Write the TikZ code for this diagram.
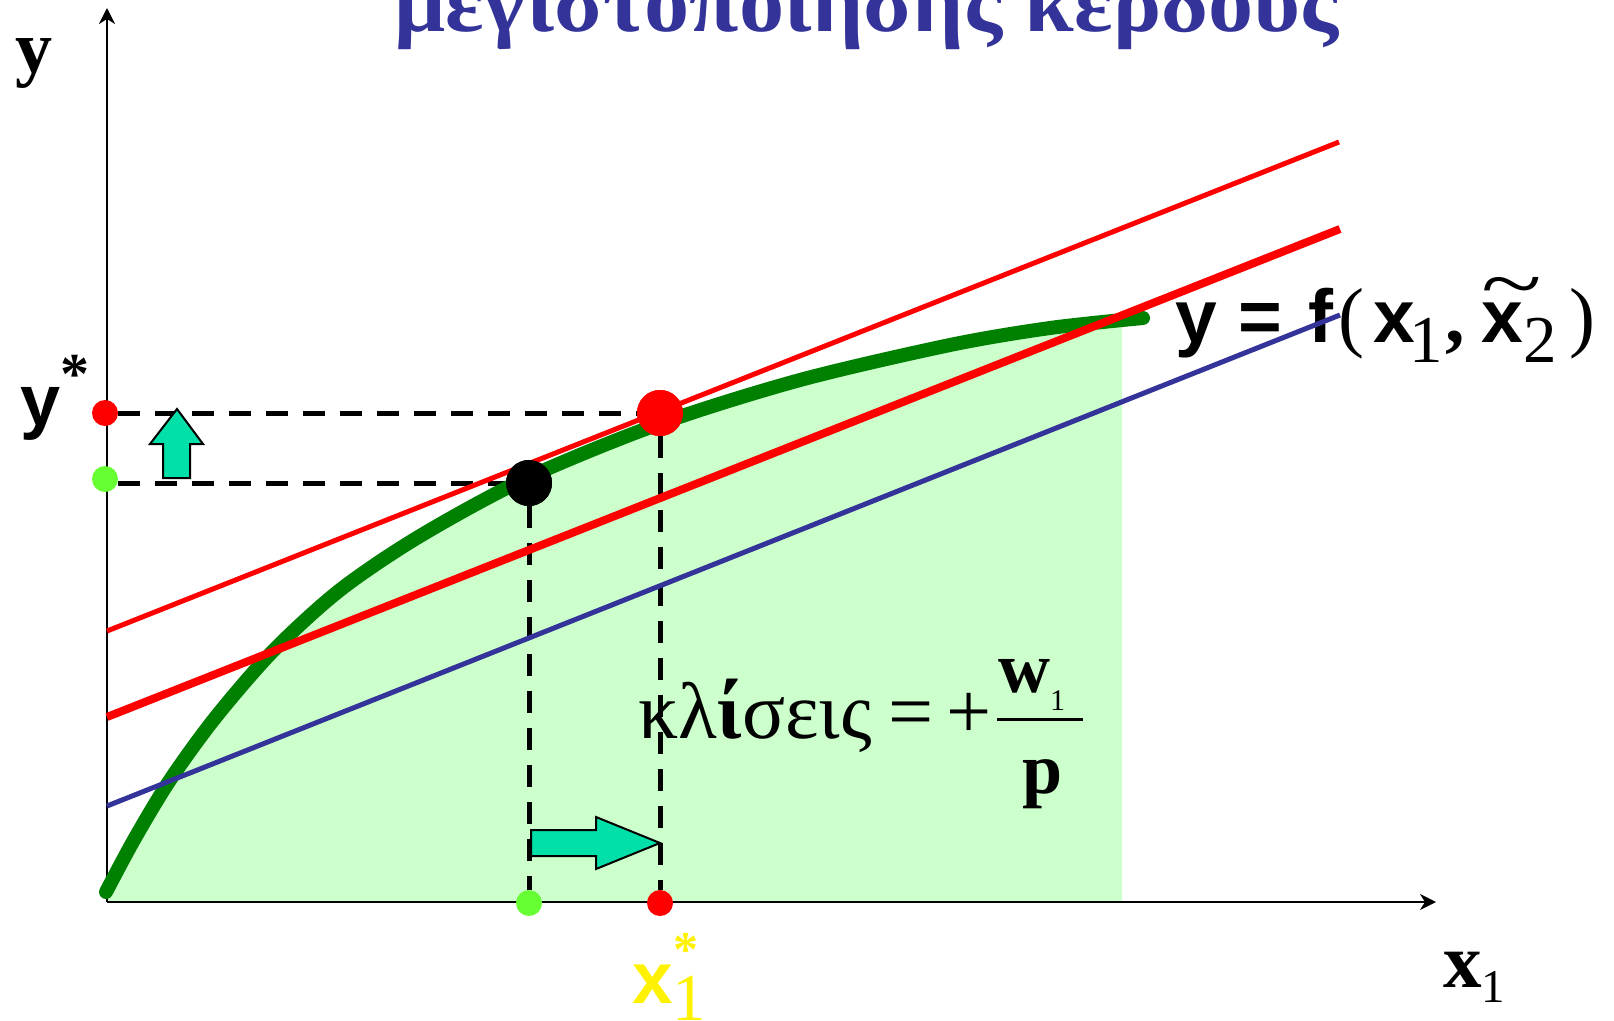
\documentclass[tikz,border=0pt]{standalone}
\usepackage{fontspec}
\usepackage{graphicx}
\setmainfont{Liberation Serif}
\setsansfont{Liberation Sans}
\usetikzlibrary{arrows.meta}

\definecolor{curvegreen}{RGB}{0,128,0}
\definecolor{areagreen}{RGB}{204,255,204}
\definecolor{linered}{RGB}{255,0,0}
\definecolor{lineblue}{RGB}{51,51,153}
\definecolor{dotgreen}{RGB}{102,255,51}
\definecolor{movecyan}{RGB}{0,224,168}
\definecolor{titleblue}{RGB}{51,51,153}

\newcommand{\fsz}[1]{\fontsize{#1}{#1}\selectfont}
\newcommand{\sfb}{\sffamily\bfseries}

\begin{document}
\begin{tikzpicture}[x=1pt,y=-1pt,
    axis/.style={line width=2pt,-{Stealth[length=16pt,width=16pt,inset=5pt]}},
    guide/.style={line width=5pt,dash pattern=on 22pt off 15pt},
    bigdot/.style={circle,inner sep=0pt,minimum size=46pt},
    smalldot/.style={circle,inner sep=0pt,minimum size=26pt},
    blockarrow/.style={fill=movecyan,draw=black,line width=2pt,line join=miter},
    lbl/.style={inner sep=0pt,anchor=base west}]
    \useasboundingbox (0,0) rectangle (1614,1020);

    % Title (cut by the top edge)
    \node[lbl,text=titleblue] (title) at (394,31) {\fsz{95}\bfseries\scalebox{0.95}[0.9]{μεγιστοποίησης κέρδους}};

    % Area under the production function
    \begin{scope}
        \clip (107,0) rectangle (1122,902);
        \fill[areagreen] plot[smooth] coordinates {(106,892) (135,838) (170,780) (215,718) (273,651) (340,590) (420,536) (527,478) (659,424) (800,380) (950,345) (1050,328) (1143,318)} -- (1143,902) -- (106,902) -- cycle;
    \end{scope}

    % Axes
    \coordinate (O) at (107,902);
    \coordinate (ytop) at (107,8);
    \coordinate (xend) at (1436,902);
    \draw[axis] (O) -- (ytop);
    \draw[axis] (O) -- (xend);

    % Points
    \node[bigdot,fill=black] (opt0) at (529,483) {};
    \node[bigdot,fill=linered] (opt1) at (660,413) {};
    \node[smalldot,fill=linered] (ystar) at (105,413) {};
    \node[smalldot,fill=dotgreen] (yzero) at (105,479) {};
    \node[smalldot,fill=dotgreen] (xzero) at (529,903) {};
    \node[smalldot,fill=linered] (xstar) at (660,903) {};

    % Dashed guides
    \draw[guide] (ystar) -- (opt1);
    \draw[guide] (yzero.east |- opt0) -- (opt0);
    \draw[guide] (opt0) -- (xzero);
    \draw[guide] (opt1) -- (xstar);

    % Production function
    \draw[curvegreen,line width=14pt,line cap=round] plot[smooth] coordinates {(106,892) (135,838) (170,780) (215,718) (273,651) (340,590) (420,536) (527,478) (659,424) (800,380) (950,345) (1050,328) (1143,318)};

    % Labels
    \node[lbl] (fname) at (1175,342) {{\sfb\fsz{75}y\hspace{22pt}=\hspace{26pt}f}\hspace{5pt}{\fsz{78}(}\hspace{9pt}{\sfb\fsz{75}x}\hspace{-6pt}\raisebox{-20pt}{\fsz{67}1}\hspace{3pt}{\fsz{78}\bfseries,}\hspace{16pt}{\sfb\fsz{75}\rlap{\raisebox{32pt}{\rmfamily\mdseries\fsz{80}\scalebox{1.4}[1]{\char"7E}}}x}\raisebox{-20pt}{\fsz{67}2}\hspace{13pt}{\fsz{78})}};
    \node[lbl] (slope) at (638,738) {\fsz{80}κλ\textbf{ί}σεις\hspace{17pt}=\hspace{12pt}+};
    \node[lbl] (wnum) at (998,692) {\fsz{72}\bfseries w\raisebox{-18pt}{\mdseries\fsz{30}1}};
    \node[lbl] (pden) at (1022,793) {\fsz{72}\bfseries p};
    \draw[line width=3pt] (997,719) -- (1083,719);
    \node[lbl] (ylabel) at (15,72) {\fsz{74}\bfseries y};
    \node[lbl] (ystarlabel) at (20,425) {{\sfb\fsz{72}y}\raisebox{32pt}{\fsz{58}\bfseries *}};
    \node[lbl,text=yellow] (xstarlabel) at (632,1003) {{\sfb\fsz{73}x}\raisebox{-17pt}{\fsz{67}1}};
    \node[lbl,text=yellow] (xstarmark) at (673,966) {\fsz{50}\bfseries *};
    \node[lbl] (xlabel) at (1443,987) {\fsz{77}\bfseries x\raisebox{-15pt}{\mdseries\fsz{47}1}};

    % Isoprofit lines
    \draw[linered,line width=5pt] (107,631) -- (1339,142);
    \draw[linered,line width=8pt] (107,717) -- (1340,229);
    \draw[lineblue,line width=5pt] (107,806) -- (1340,315);

    % Shift arrows
    \draw[blockarrow] (163,478) -- (163,444) -- (150,444) -- (177,409) -- (203,444) -- (190,444) -- (190,478) -- cycle;
    \draw[blockarrow] (531,830) -- (596,830) -- (596,817) -- (660,843) -- (596,869) -- (596,856) -- (531,856) -- cycle;

    % Points on top
    \node[bigdot,fill=black] at (opt0) {};
    \node[bigdot,fill=linered] at (opt1) {};
\end{tikzpicture}
\end{document}
